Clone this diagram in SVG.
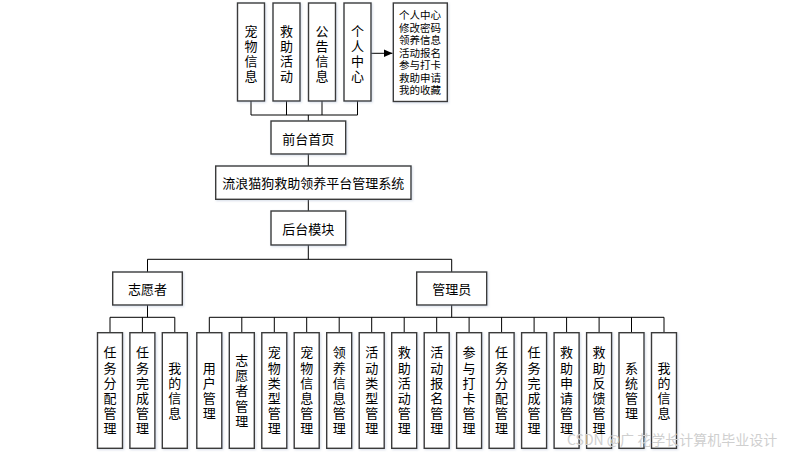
<svg xmlns="http://www.w3.org/2000/svg" width="791" height="454" viewBox="0 0 791 454">
<style>
.box{fill:#fff;stroke:#3a3a3a;stroke-width:1.4;filter:url(#sh)}
.t{font-family:"Noto Sans CJK SC","Liberation Sans",sans-serif;font-size:13px;fill:#000;dominant-baseline:central;text-anchor:middle}
.v{font-family:"Noto Sans CJK SC","Liberation Sans",sans-serif;font-size:13px;fill:#000;writing-mode:vertical-rl;text-anchor:middle;letter-spacing:2.2px}
.vt{font-family:"Noto Sans CJK SC","Liberation Sans",sans-serif;font-size:13px;fill:#000;writing-mode:vertical-rl;text-anchor:middle;letter-spacing:2px}
.s{font-family:"Liberation Sans","Noto Sans CJK SC",sans-serif;font-size:10.5px;fill:#000;dominant-baseline:central}
.c{fill:none;stroke:#000;stroke-width:1}
.wm{font-family:"Noto Sans CJK SC","Liberation Sans",sans-serif;font-size:14px;fill:#cfcfcf;dominant-baseline:central}
</style>
<defs>
<filter id="sh" x="-20%" y="-20%" width="140%" height="140%">
<feDropShadow dx="1" dy="1" stdDeviation="0.8" flood-color="#8aa0c0" flood-opacity="0.35"/>
</filter>
<marker id="ar" markerWidth="10" markerHeight="10" refX="9" refY="5" orient="auto" markerUnits="userSpaceOnUse">
<path d="M0,1 L9,5 L0,9 Z" fill="#000"/>
</marker>
</defs>

<g id="connectors">
<path class="c" d="M251,101 V115 M286.5,101 V115 M322,101 V115 M357.5,101 V115 M251,115 H357.5 M308.3,115 V121"/>
<path class="c" d="M370.7,53.3 H392.5" marker-end="url(#ar)"/>
<path class="c" d="M308.3,154 V166 M308.3,199.3 V211 M308.3,245 V259.3 M147.5,259.3 H451.7 M147.5,259.3 V272 M451.7,259.3 V272"/>
<path class="c" d="M147.5,305 V317.3 M110,317.3 H174.8 M110,317.3 V332.7 M142.4,317.3 V332.7 M174.8,317.3 V332.7"/>
<path class="c" d="M451.7,305 V317.3 M209.3,317.3 H664 M209.3,317.3 V332.7 M241.8,317.3 V332.7 M274.3,317.3 V332.7 M306.7,317.3 V332.7 M339.2,317.3 V332.7 M371.7,317.3 V332.7 M404.2,317.3 V332.7 M436.7,317.3 V332.7 M469.1,317.3 V332.7 M501.6,317.3 V332.7 M534.1,317.3 V332.7 M566.6,317.3 V332.7 M599.1,317.3 V332.7 M631.5,317.3 V332.7 M664,317.3 V332.7"/>
</g>

<g id="n-pet"><rect class="box" x="237.5" y="3" width="27" height="98"/><text class="vt" x="251" y="55">宠物信息</text></g>
<g id="n-rescue"><rect class="box" x="273" y="3" width="27" height="98"/><text class="vt" x="286.5" y="55">救助活动</text></g>
<g id="n-notice"><rect class="box" x="308.5" y="3" width="27" height="98"/><text class="vt" x="322" y="55">公告信息</text></g>
<g id="n-user"><rect class="box" x="344" y="3" width="27" height="98"/><text class="vt" x="357.5" y="55">个人中心</text></g>
<g id="n-userlist"><rect class="box" x="393.3" y="3" width="54" height="98.5"/><text class="s"><tspan x="399" y="15">个人中心</tspan><tspan x="399" y="27.5">修改密码</tspan><tspan x="399" y="40">领养信息</tspan><tspan x="399" y="52.5">活动报名</tspan><tspan x="399" y="65">参与打卡</tspan><tspan x="399" y="77.5">救助申请</tspan><tspan x="399" y="90">我的收藏</tspan></text></g>

<g id="n-front"><rect class="box" x="271" y="121" width="74.7" height="33"/><text class="t" x="308.3" y="138">前台首页</text></g>
<g id="n-system"><rect class="box" x="215.7" y="166" width="195.3" height="33.3"/><text class="t" x="313.3" y="182.5">流浪猫狗救助领养平台管理系统</text></g>
<g id="n-back"><rect class="box" x="271" y="211" width="74.7" height="34"/><text class="t" x="308.3" y="228">后台模块</text></g>
<g id="n-volunteer"><rect class="box" x="112.7" y="272" width="69.6" height="33"/><text class="t" x="147.5" y="288.5">志愿者</text></g>
<g id="n-admin"><rect class="box" x="416.7" y="272" width="70" height="33"/><text class="t" x="451.7" y="288.5">管理员</text></g>

<g id="v1"><rect class="box" x="97.5" y="332.7" width="25" height="115.6"/><text class="v" x="110" y="391.5">任务分配管理</text></g>
<g id="v2"><rect class="box" x="129.9" y="332.7" width="25" height="115.6"/><text class="v" x="142.4" y="391.5">任务完成管理</text></g>
<g id="v3"><rect class="box" x="162.3" y="332.7" width="25" height="115.6"/><text class="v" x="174.8" y="391.5">我的信息</text></g>

<g id="a0"><rect class="box" x="196.8" y="332.7" width="25" height="115.6"/><text class="v" x="209.3" y="391.5">用户管理</text></g>
<g id="a1"><rect class="box" x="229.3" y="332.7" width="25" height="115.6"/><text class="v" x="241.8" y="391.5">志愿者管理</text></g>
<g id="a2"><rect class="box" x="261.8" y="332.7" width="25" height="115.6"/><text class="v" x="274.3" y="391.5">宠物类型管理</text></g>
<g id="a3"><rect class="box" x="294.2" y="332.7" width="25" height="115.6"/><text class="v" x="306.7" y="391.5">宠物信息管理</text></g>
<g id="a4"><rect class="box" x="326.7" y="332.7" width="25" height="115.6"/><text class="v" x="339.2" y="391.5">领养信息管理</text></g>
<g id="a5"><rect class="box" x="359.2" y="332.7" width="25" height="115.6"/><text class="v" x="371.7" y="391.5">活动类型管理</text></g>
<g id="a6"><rect class="box" x="391.7" y="332.7" width="25" height="115.6"/><text class="v" x="404.2" y="391.5">救助活动管理</text></g>
<g id="a7"><rect class="box" x="424.2" y="332.7" width="25" height="115.6"/><text class="v" x="436.7" y="391.5">活动报名管理</text></g>
<g id="a8"><rect class="box" x="456.6" y="332.7" width="25" height="115.6"/><text class="v" x="469.1" y="391.5">参与打卡管理</text></g>
<g id="a9"><rect class="box" x="489.1" y="332.7" width="25" height="115.6"/><text class="v" x="501.6" y="391.5">任务分配管理</text></g>
<g id="a10"><rect class="box" x="521.6" y="332.7" width="25" height="115.6"/><text class="v" x="534.1" y="391.5">任务完成管理</text></g>
<g id="a11"><rect class="box" x="554.1" y="332.7" width="25" height="115.6"/><text class="v" x="566.6" y="391.5">救助申请管理</text></g>
<g id="a12"><rect class="box" x="586.6" y="332.7" width="25" height="115.6"/><text class="v" x="599.1" y="391.5">救助反馈管理</text></g>
<g id="a13"><rect class="box" x="619" y="332.7" width="25" height="115.6"/><text class="v" x="631.5" y="391.5">系统管理</text></g>
<g id="a14"><rect class="box" x="651.5" y="332.7" width="25" height="115.6"/><text class="v" x="664" y="391.5">我的信息</text></g>

<text class="wm" x="567" y="439">CSDN @广 花学长计算机毕业设计</text>
</svg>
